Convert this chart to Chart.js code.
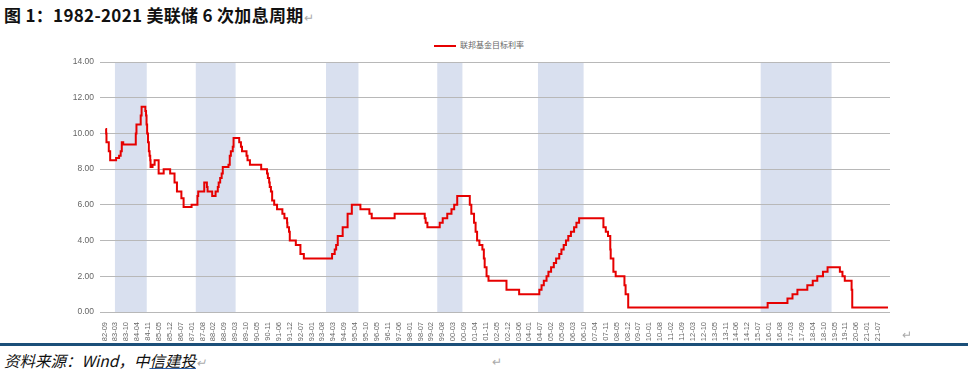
<!DOCTYPE html>
<html>
<head>
<meta charset="utf-8">
<script src="https://cdn.jsdelivr.net/npm/chart.js@4.4.1/dist/chart.umd.min.js"></script>
<style>
  html,body{margin:0;padding:0;background:#fff;}
  body{width:968px;height:377px;position:relative;overflow:hidden;font-family:"Noto Sans CJK SC","Liberation Sans",Arial,sans-serif;}
  #title{position:absolute;left:4px;top:2px;font-size:17px;font-weight:bold;color:#111;white-space:nowrap;letter-spacing:0.3px;}
  .ret{color:#aaa;font-weight:normal;font-size:12px;}
  #botline{position:absolute;left:0;top:343px;width:968px;height:3px;background:#1b4f79;}
  #foot{position:absolute;left:4px;top:349px;font-size:15.5px;font-style:italic;color:#111;white-space:nowrap;}
  #foot u{text-decoration:underline;text-decoration-color:#2e5fa6;}
  #ret2{position:absolute;left:492px;top:352px;color:#aaa;font-size:12px;}
  #ret3{position:absolute;left:902px;top:325px;color:#aaa;font-size:12px;}
  #legend{position:absolute;left:434px;top:39px;height:14px;white-space:nowrap;}
  #legend .sw{position:absolute;left:0;top:6px;width:22px;height:2px;background:#e60000;}
  #legend .tx{position:absolute;left:26px;top:0px;font-size:8px;color:#666;}
  #wrap{position:absolute;left:0;top:30px;width:968px;height:312px;}
</style>
</head>
<body>
<div id="title">图 1：1982-2021 美联储 6 次加息周期<span class="ret">↵</span></div>
<div id="legend"><div class="sw"></div><div class="tx">联邦基金目标利率</div></div>
<div id="wrap"><canvas id="c" width="968" height="312"></canvas></div>
<div id="ret3">↵</div>
<div id="botline"></div>
<div id="foot">资料来源：Wind，中<u>信建投</u><span class="ret">↵</span></div>
<div id="ret2">↵</div>
<script>
// ---- data ----
const rateDates = [
"1982-09-20","1982-10-01","1982-10-07","1982-11-19","1982-12-14","1983-03-31","1983-05-25","1983-06-24","1983-07-14","1983-08-10",
"1984-03-27","1984-04-09","1984-06-26","1984-07-12","1984-09-20","1984-10-02","1984-10-11","1984-10-22","1984-11-08","1984-11-23",
"1984-12-06","1984-12-18","1984-12-24","1985-01-30","1985-03-07","1985-05-20","1985-08-21","1985-12-18","1986-03-07","1986-04-21",
"1986-07-11","1986-08-21","1987-01-15","1987-05-01","1987-05-15","1987-09-04","1987-10-22","1987-11-04","1988-01-28","1988-03-29",
"1988-05-09","1988-05-25","1988-06-22","1988-07-19","1988-08-09","1988-11-22","1988-12-15","1989-01-05","1989-02-09","1989-02-24",
"1989-06-06","1989-07-07","1989-07-27","1989-10-18","1989-11-06","1989-12-20","1990-07-13","1990-10-29","1990-11-14","1990-12-07",
"1990-12-18","1991-01-09","1991-02-01","1991-03-08","1991-04-30","1991-08-06","1991-09-13","1991-10-31","1991-11-06","1991-12-06",
"1991-12-20","1992-04-09","1992-07-02","1992-09-04","1994-02-04","1994-03-22","1994-04-18","1994-05-17","1994-08-16","1994-11-15",
"1995-02-01","1995-07-06","1995-12-19","1996-01-31","1997-03-25","1998-09-29","1998-10-15","1998-11-17","1999-06-30","1999-08-24",
"1999-11-16","2000-02-02","2000-03-21","2000-05-16","2001-01-03","2001-01-31","2001-03-20","2001-04-18","2001-05-15","2001-06-27",
"2001-08-21","2001-09-17","2001-10-02","2001-11-06","2001-12-11","2002-11-06","2003-06-25","2004-06-30","2004-08-10","2004-09-21",
"2004-11-10","2004-12-14","2005-02-02","2005-03-22","2005-05-03","2005-06-30","2005-08-09","2005-09-20","2005-11-01","2005-12-13",
"2006-01-31","2006-03-28","2006-05-10","2006-06-29","2007-09-18","2007-10-31","2007-12-11","2008-01-22","2008-01-30","2008-03-18",
"2008-04-30","2008-10-08","2008-10-29","2008-12-16","2015-12-16","2016-12-14","2017-03-15","2017-06-14","2017-12-13","2018-03-21",
"2018-06-13","2018-09-26","2018-12-19","2019-08-01","2019-09-18","2019-10-30","2020-03-03","2020-03-15","2021-12-31"
];
const rateValues = [
10.25,10.00,9.50,9.00,8.50,8.625,8.75,9.00,9.50,9.375,
10.00,10.50,11.00,11.50,11.25,11.00,10.50,10.00,9.50,9.00,
8.75,8.50,8.125,8.25,8.50,7.75,8.00,7.75,7.25,6.75,
6.375,5.875,6.00,6.50,6.75,7.25,7.00,6.75,6.50,6.75,
7.00,7.25,7.50,7.75,8.125,8.25,8.75,9.00,9.25,9.75,
9.50,9.25,9.00,8.75,8.50,8.25,8.00,7.75,7.50,7.25,
7.00,6.75,6.25,6.00,5.75,5.50,5.25,5.00,4.75,4.50,
4.00,3.75,3.25,3.00,3.25,3.50,3.75,4.25,4.75,5.50,
6.00,5.75,5.50,5.25,5.50,5.25,5.00,4.75,5.00,5.25,
5.50,5.75,6.00,6.50,6.00,5.50,5.00,4.50,4.00,3.75,
3.50,3.00,2.50,2.00,1.75,1.25,1.00,1.25,1.50,1.75,
2.00,2.25,2.50,2.75,3.00,3.25,3.50,3.75,4.00,4.25,
4.50,4.75,5.00,5.25,4.75,4.50,4.25,3.50,3.00,2.25,
2.00,1.50,1.00,0.25,0.50,0.75,1.00,1.25,1.50,1.75,
2.00,2.25,2.50,2.25,2.00,1.75,1.25,0.25,0.25
];
// shaded hiking cycles [start, end]
const cycleStarts = ["1983-03-10","1987-04-01","1993-10-15","1999-05-15","2004-06-05","2015-08-10"];
const cycleEnds   = ["1984-10-15","1989-04-01","1995-06-01","2000-08-20","2006-09-20","2019-03-01"];
const xTickLabels = ["82-09","83-03","83-10","84-04","84-11","85-05","85-12","86-07","87-01","87-08","88-02","88-09","89-03","89-10","90-05","90-11","91-06","91-12","92-07","93-01","93-08","94-03","94-09","95-04","95-10","96-05","96-11","97-06","98-01","98-07","99-02","99-08","00-03","00-09","01-04","01-11","02-05","02-12","03-06","04-01","04-07","05-02","05-09","06-03","06-10","07-04","07-11","08-05","08-12","09-07","10-01","10-08","11-02","11-09","12-03","12-10","13-05","13-11","14-06","14-12","15-07","16-01","16-08","17-03","17-09","18-04","18-10","19-05","19-11","20-06","21-01","21-07"];
const yTicks = [0,2,4,6,8,10,12,14];
const seriesName = "联邦基金目标利率";

// month offset from 1982-09
function mo(s){
  const p = s.split("-").map(Number);
  return (p[0]-1982)*12 + (p[1]-9) + (p[2]?(p[2]-1)/30.4:0);
}
function labMo(l){
  const p = l.split("-").map(Number);
  const y = p[0] < 50 ? 2000+p[0] : 1900+p[0];
  return (y-1982)*12 + (p[1]-9);
}
const points = rateDates.map((d,i)=>({x:mo(d), y:rateValues[i]}));
const tFirst = labMo(xTickLabels[0]), tLast = labMo(xTickLabels[xTickLabels.length-1]);
const tStep = (tLast - tFirst)/(xTickLabels.length-1);

const bandPlugin = {
  id:'bands',
  beforeDraw(chart){
    const {ctx, chartArea:a, scales:{x}} = chart;
    ctx.save();
    ctx.fillStyle = '#d9e0ef';
    cycleStarts.forEach((s,i)=>{
      const x0 = x.getPixelForValue(mo(s)), x1 = x.getPixelForValue(mo(cycleEnds[i]));
      ctx.fillRect(x0, a.top, x1-x0, a.bottom-a.top);
    });
    ctx.restore();
  }
};

new Chart(document.getElementById('c'), {
  type:'line',
  data:{datasets:[{label:seriesName, data:points, borderColor:'#e60000', borderWidth:2, pointRadius:0, stepped:true, fill:false}]},
  options:{
    responsive:false, animation:false,
    layout:{padding:{top:32,right:78,left:0,bottom:0}},
    plugins:{legend:{display:false}, tooltip:{enabled:false}},
    scales:{
      x:{type:'linear', min:-2.7, max:473.2,
        grid:{display:false}, border:{display:false},
        afterFit(s){ s.height = 30; },
        afterBuildTicks(s){ s.ticks = xTickLabels.map((l,i)=>({value: tFirst + i*tStep})); },
        ticks:{autoSkip:false, minRotation:90, maxRotation:90, padding:2, color:'#666',
          font:{family:'"Liberation Sans", Arial', size:7.5},
          callback:(v,i)=>xTickLabels[i]}
      },
      y:{min:0, max:14,
        afterFit(s){ s.width = 100; },
        afterBuildTicks(s){ s.ticks = yTicks.map(v=>({value:v})); },
        grid:{color:'#b8b8b8', lineWidth:1, drawTicks:false}, border:{display:false},
        ticks:{padding:6, color:'#666', font:{family:'"Liberation Sans", Arial', size:8.5},
          callback:v=>Number(v).toFixed(2)}
      }
    }
  },
  plugins:[bandPlugin]
});
</script>
</body>
</html>
